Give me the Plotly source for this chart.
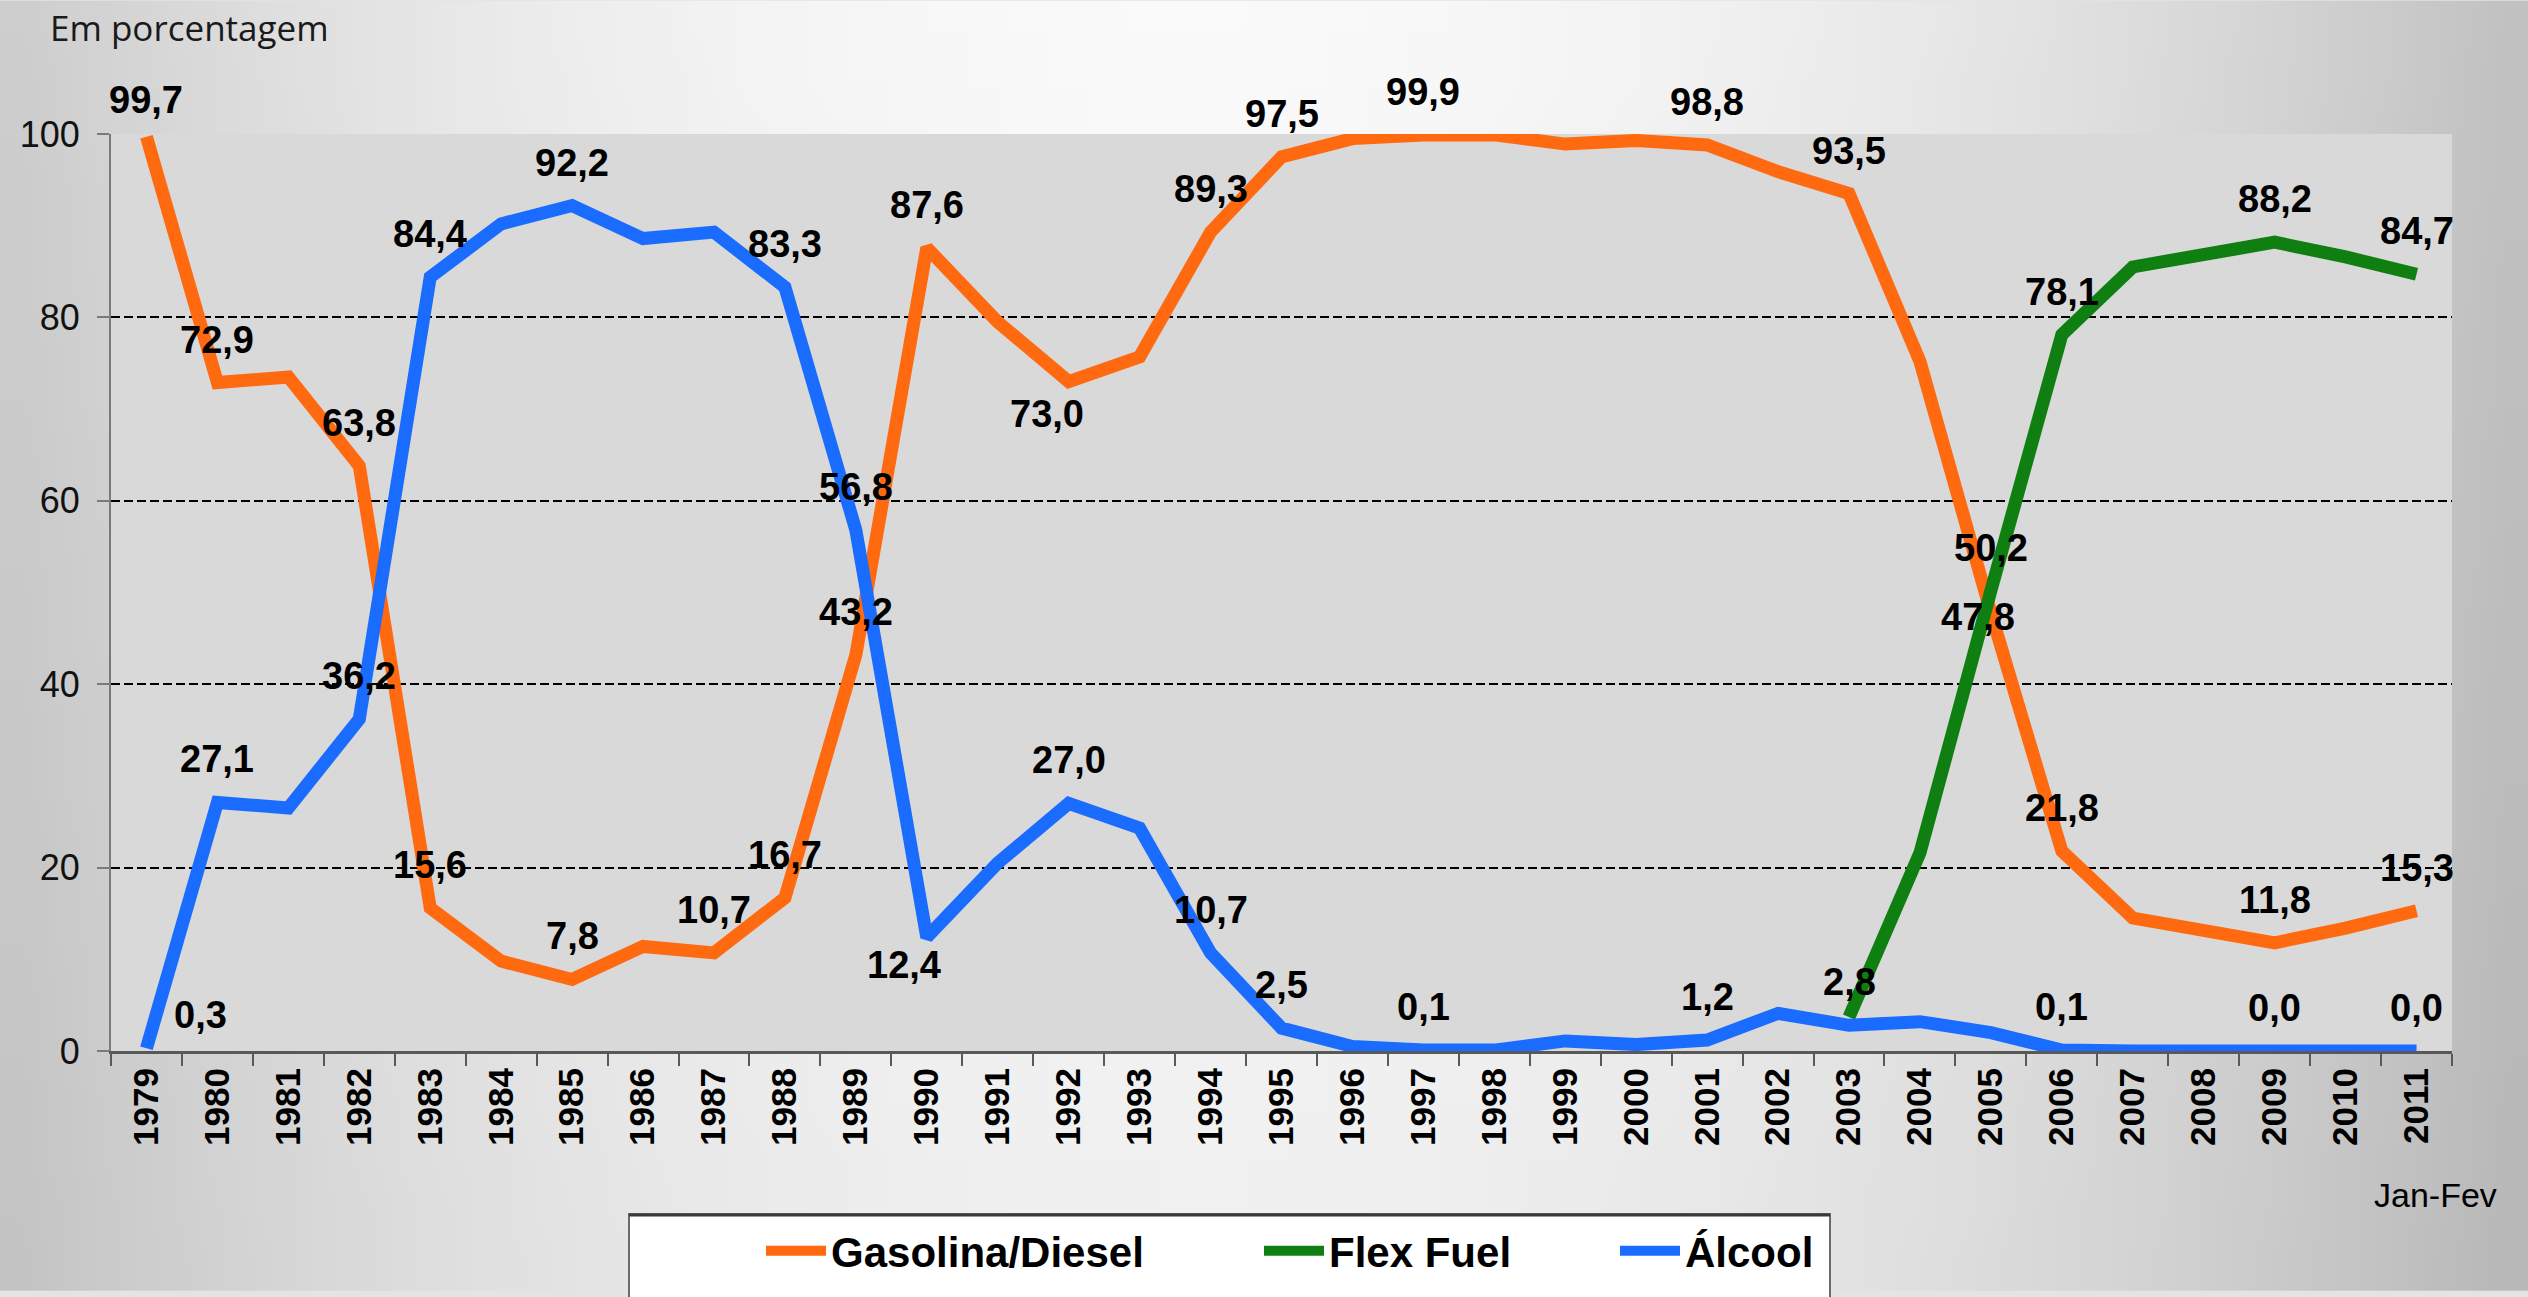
import zlib
import struct
import base64
import plotly.graph_objects as go

# ---------------- data ----------------
years = ["1979", "1980", "1981", "1982", "1983", "1984", "1985", "1986", "1987", "1988",
         "1989", "1990", "1991", "1992", "1993", "1994", "1995", "1996", "1997", "1998",
         "1999", "2000", "2001", "2002", "2003", "2004", "2005", "2006", "2007", "2008",
         "2009", "2010", "2011"]

gasolina = [99.7, 72.9, 73.5, 63.8, 15.6, 9.8, 7.8, 11.4, 10.7, 16.7,
            43.2, 87.6, 79.5, 73.0, 75.7, 89.3, 97.5, 99.5, 99.9, 99.9,
            98.9, 99.3, 98.8, 95.9, 93.5, 75.2, 47.8, 21.8, 14.5, 13.1,
            11.8, 13.4, 15.3]

alcool = [0.3, 27.1, 26.5, 36.2, 84.4, 90.2, 92.2, 88.6, 89.3, 83.3,
          56.8, 12.4, 20.5, 27.0, 24.3, 10.7, 2.5, 0.5, 0.1, 0.1,
          1.1, 0.7, 1.2, 4.1, 2.8, 3.2, 2.0, 0.1, 0.0, 0.0,
          0.0, 0.0, 0.0]

flex = [None, None, None, None, None, None, None, None, None, None,
        None, None, None, None, None, None, None, None, None, None,
        None, None, None, None, 3.7, 21.6, 50.2, 78.1, 85.5, 86.9,
        88.2, 86.6, 84.7]

gas_label_years = ["1979", "1980", "1982", "1983", "1985", "1987", "1988", "1989", "1990",
                   "1992", "1994", "1995", "1997", "2001", "2003", "2005", "2006", "2009", "2011"]
alc_label_years = ["1979", "1980", "1982", "1983", "1985", "1988", "1989", "1990", "1992",
                   "1994", "1995", "1997", "2001", "2003", "2006", "2009", "2011"]
flex_label_years = ["2005", "2006", "2009", "2011"]

series_names = ["Gasolina/Diesel", "Flex Fuel", "Álcool"]
y_ticks = [0, 20, 40, 60, 80, 100]

# ---------------- styling ----------------
W, H = 2528, 1297
ML, MR, MT, MB = 111, 76, 134, 241
PW, PH = W - ML - MR, H - MT - MB

C_GAS = "#ff6a10"
C_FLEX = "#0f7f12"
C_ALC = "#1a6cff"
LW = 13

LBL_FONT = dict(family="Liberation Sans, Arial, sans-serif", size=38, color="#000000", weight="bold")


def px_x(px):
    return (px - ML) / PW


def px_y(py):
    return (H - MB - py) / PH


def gradient_png(w, h):
    rows = []
    for j in range(h):
        v = (j + 0.5) / h
        row = bytearray([0])
        for i in range(w):
            u = (i + 0.5) / w
            d = (u - 0.47) / 0.53
            g = int(round(250 - 58 * d * d - 10 * v))
            row.append(max(0, min(255, g)))
        rows.append(bytes(row))
    raw = b"".join(rows)

    def chunk(t, data):
        return (struct.pack(">I", len(data)) + t + data +
                struct.pack(">I", zlib.crc32(t + data) & 0xffffffff))

    png = (b"\x89PNG\r\n\x1a\n" +
           chunk(b"IHDR", struct.pack(">IIBBBBB", w, h, 8, 0, 0, 0, 0)) +
           chunk(b"IDAT", zlib.compress(raw)) + chunk(b"IEND", b""))
    return "data:image/png;base64," + base64.b64encode(png).decode()


# label offsets (xshift, yshift) in pixels; default is centred above the point
DEFAULT_OFF = (0, 43)
special_off = {
    ("gas", "1979"): (0, 37),
    ("alc", "1979"): (54, 33),
    ("gas", "1992"): (-22, -32),
    ("alc", "1990"): (-23, -28),
    ("gas", "2005"): (-13, -4),
}

fig = go.Figure()

fig.add_trace(go.Scatter(x=years, y=gasolina, mode="lines", name=series_names[0],
                         line=dict(color=C_GAS, width=LW), legend="legend", hoverinfo="skip"))
fig.add_trace(go.Scatter(x=years, y=flex, mode="lines", name=series_names[1],
                         line=dict(color=C_FLEX, width=LW), legend="legend2", hoverinfo="skip"))
fig.add_trace(go.Scatter(x=years, y=alcool, mode="lines", name=series_names[2],
                         line=dict(color=C_ALC, width=LW), legend="legend3", hoverinfo="skip"))

annotations = []


def fmt(v):
    return f"{v:.1f}".replace(".", ",")


for key, vals, lab_years in (("gas", gasolina, gas_label_years),
                             ("alc", alcool, alc_label_years),
                             ("flex", flex, flex_label_years)):
    for yr in lab_years:
        idx = years.index(yr)
        v = vals[idx]
        dx, dy = special_off.get((key, yr), DEFAULT_OFF)
        annotations.append(dict(x=idx, y=v, xref="x", yref="y", text=fmt(v), showarrow=False,
                                xshift=dx, yshift=dy, font=LBL_FONT))

annotations.append(dict(x=px_x(48), y=px_y(27), xref="paper", yref="paper", text="Em porcentagem",
                        showarrow=False, xanchor="left", yanchor="middle",
                        font=dict(family="Open Sans, sans-serif", size=35, color="#1a1a1a")))
annotations.append(dict(x=px_x(2435), y=px_y(1201), xref="paper", yref="paper", text="Jan-Fev",
                        showarrow=False, xanchor="center", yanchor="middle",
                        font=dict(family="Liberation Sans, Arial, sans-serif", size=34, color="#000000")))

shapes = [
    # plot area
    dict(type="rect", xref="paper", yref="paper", layer="below",
         x0=0, x1=1, y0=0, y1=1, fillcolor="#d9d9d9", line=dict(width=0)),
    # legend box
    dict(type="rect", xref="paper", yref="paper", layer="above",
         x0=px_x(629), x1=px_x(1830), y0=px_y(1220), y1=px_y(1330),
         fillcolor="#ffffff", line=dict(color="#6a6a6a", width=2)),
    # darker top edge of legend box
    dict(type="line", xref="paper", yref="paper", layer="above",
         x0=px_x(629), x1=px_x(1830), y0=px_y(1221), y1=px_y(1221),
         line=dict(color="#3a3a3a", width=3)),
]

images = [dict(source=gradient_png(64, 24), xref="paper", yref="paper",
               x=px_x(0), y=px_y(0), sizex=W / PW, sizey=H / PH,
               sizing="stretch", xanchor="left", yanchor="top", layer="below", opacity=1)]

LEG_FONT = dict(family="Liberation Sans, Arial, sans-serif", size=42, color="#000000", weight="bold")
leg_common = dict(bgcolor="rgba(0,0,0,0)", borderwidth=0, font=LEG_FONT, xanchor="left",
                  yanchor="middle", y=px_y(1257), itemwidth=60)

fig.update_layout(
    width=W, height=H, autosize=False,
    margin=dict(l=ML, r=MR, t=MT, b=MB, pad=0),
    paper_bgcolor="#e4e4e4",
    plot_bgcolor="rgba(0,0,0,0)",
    shapes=shapes,
    images=images,
    annotations=annotations,
    showlegend=True,
    legend=dict(x=px_x(791 - 30), **leg_common),
    legend2=dict(x=px_x(1289 - 30), **leg_common),
    legend3=dict(x=px_x(1645 - 30), **leg_common),
    xaxis=dict(type="category", categoryorder="array", categoryarray=years,
               range=[-0.5, len(years) - 0.5], autorange=False,
               tickmode="array", tickvals=years, ticktext=years,
               tickangle=-90, tickson="boundaries", ticks="outside", ticklen=12, tickwidth=2,
               tickcolor="#595959", showline=True, linecolor="#595959", linewidth=3,
               showgrid=False, zeroline=False,
               tickfont=dict(family="Liberation Sans, Arial, sans-serif", size=35, color="#000000",
                             weight="bold")),
    yaxis=dict(range=[0, 100], autorange=False, tickmode="array", tickvals=y_ticks,
               ticks="outside", ticklen=12,
               tickwidth=2, tickcolor="#7a7a7a", showline=True, linecolor="#7a7a7a", linewidth=2,
               showgrid=True, gridcolor="#000000", gridwidth=2, griddash="9px,4px",
               zeroline=False, ticklabelstandoff=10,
               tickfont=dict(family="Liberation Sans, Arial, sans-serif", size=36, color="#111111")),
)

fig.write_html("out.html", config=dict(displayModeBar=False, staticPlot=True),
               post_script="document.body.style.margin='0';document.body.style.overflow='hidden';")
